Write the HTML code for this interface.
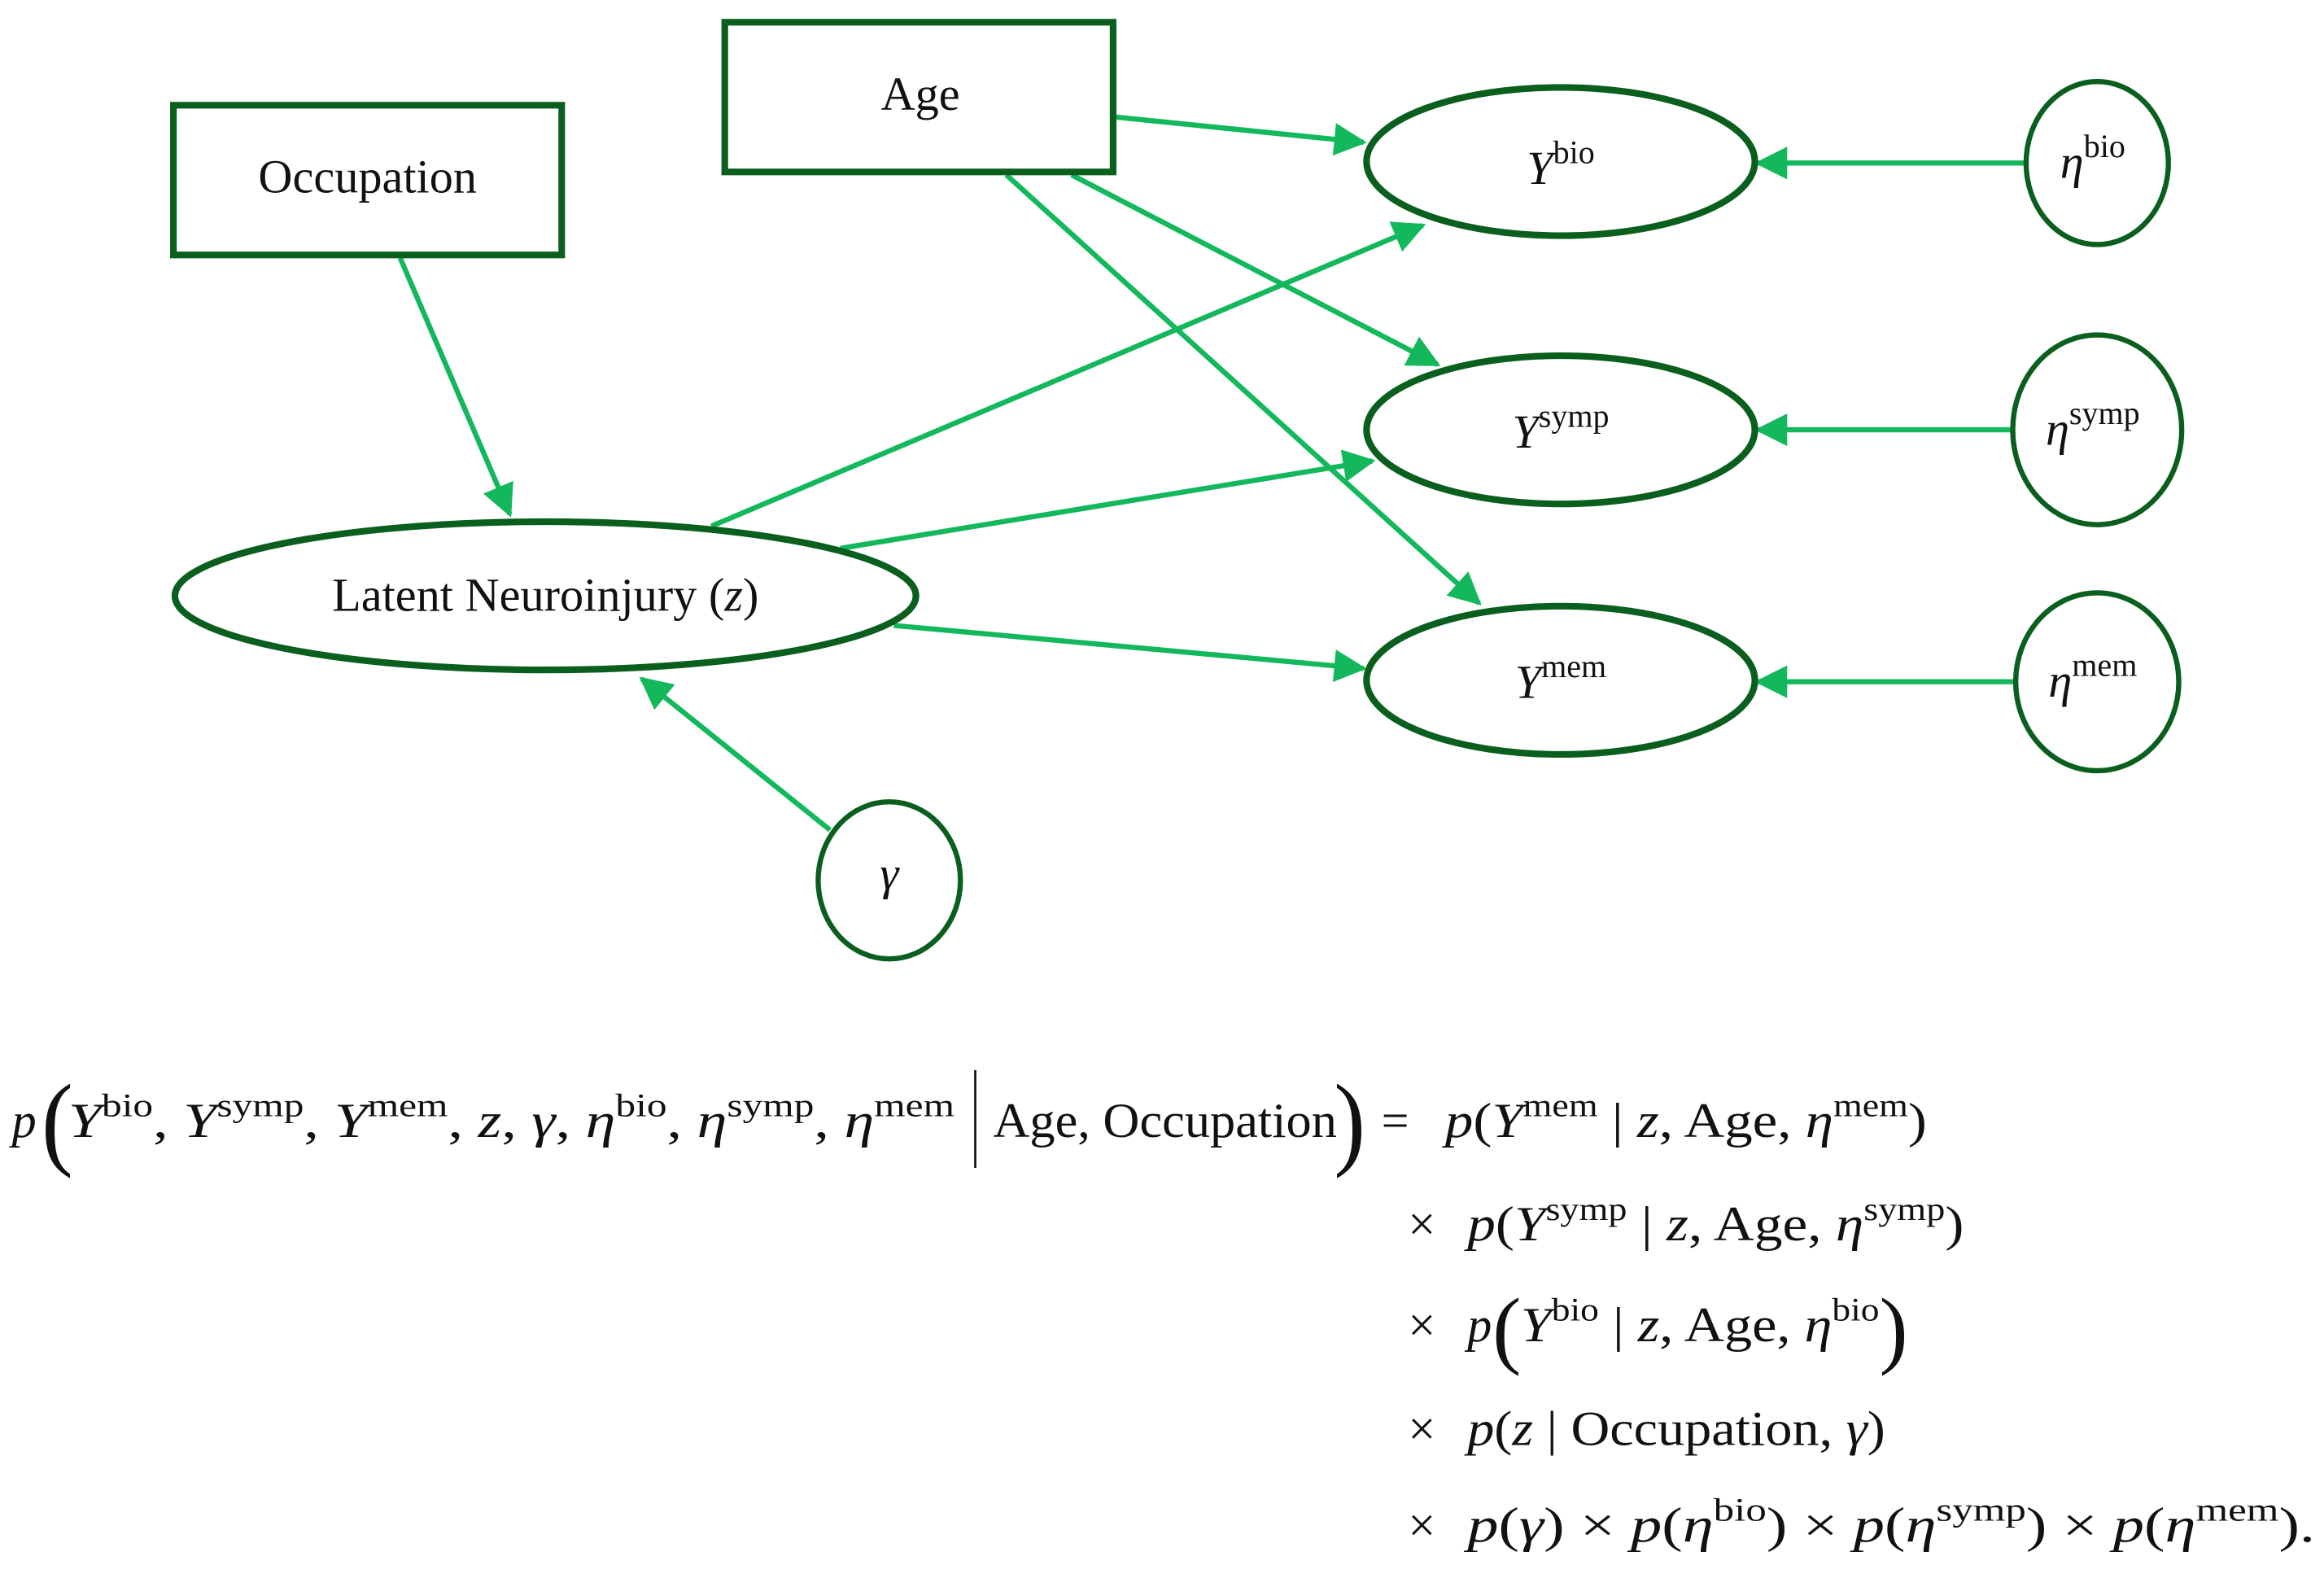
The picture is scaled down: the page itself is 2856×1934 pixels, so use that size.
<!DOCTYPE html>
<html><head><meta charset="utf-8"><style>
html,body{margin:0;padding:0;background:#fff;}
svg{display:block;}
text{font-family:"Liberation Serif","DejaVu Serif",serif;fill:#111;}
.i{font-style:italic;}
</style></head><body>
<svg width="2856" height="1934" viewBox="0 0 1568 1062" preserveAspectRatio="none" xmlns="http://www.w3.org/2000/svg">
<defs>
<marker id="ah" viewBox="0 0 10 10" refX="9" refY="5" markerWidth="9" markerHeight="7" markerUnits="userSpaceOnUse" orient="auto">
<path d="M0,0 L10,5 L0,10 Z" fill="#14b85c"/>
</marker>
<marker id="ah2" viewBox="0 0 10 10" refX="9" refY="5" markerWidth="28" markerHeight="22" markerUnits="userSpaceOnUse" orient="auto">
<path d="M0,0 L10,5 L0,10 Z" fill="#14b85c"/>
</marker>
</defs>
<g stroke="#14b85c" stroke-width="3.5" fill="none" marker-end="url(#ah2)">
<line x1="270" y1="174" x2="344" y2="347"/>
<line x1="753" y1="79" x2="920" y2="96"/>
<line x1="723" y1="118" x2="970" y2="246"/>
<line x1="679" y1="118" x2="998" y2="407"/>
<line x1="480" y1="355" x2="960" y2="152"/>
<line x1="567" y1="370" x2="926" y2="311"/>
<line x1="603" y1="422" x2="920" y2="451"/>
<line x1="560" y1="560" x2="433" y2="458"/>
<line x1="1366" y1="110" x2="1186" y2="110"/>
<line x1="1358" y1="290" x2="1186" y2="290"/>
<line x1="1360" y1="460" x2="1186" y2="460"/>
</g>
<g stroke="#0a5f1e" stroke-width="4.5" fill="#fff">
<rect x="117" y="71" width="262" height="101"/>
<rect x="489" y="15" width="262" height="101"/>
<ellipse cx="1053" cy="109" rx="131" ry="50"/>
<ellipse cx="1053" cy="290" rx="131" ry="50"/>
<ellipse cx="1053" cy="459" rx="131" ry="50"/>
<ellipse cx="368" cy="402" rx="250" ry="50"/>
</g>
<g stroke="#0a5f1e" stroke-width="3.5" fill="#fff">
<ellipse cx="1415" cy="110" rx="48" ry="55"/>
<ellipse cx="1415" cy="290" rx="57" ry="64"/>
<ellipse cx="1415" cy="460" rx="55" ry="60"/>
<ellipse cx="600" cy="594" rx="48" ry="53"/>
</g>
<g font-size="32" text-anchor="middle">
<text x="248" y="130">Occupation</text>
<text x="621" y="74">Age</text>
<text x="368" y="412">Latent Neuroinjury (<tspan class="i">z</tspan>)</text>
<text x="1053" y="124"><tspan class="i">Y</tspan><tspan font-size="22" dy="-14">bio</tspan></text>
<text x="1053" y="302"><tspan class="i">Y</tspan><tspan font-size="22" dy="-14">symp</tspan></text>
<text x="1053" y="471"><tspan class="i">Y</tspan><tspan font-size="22" dy="-14">mem</tspan></text>
<text x="1412" y="120"><tspan class="i">η</tspan><tspan font-size="22" dy="-14">bio</tspan></text>
<text x="1412" y="300"><tspan class="i">η</tspan><tspan font-size="22" dy="-14">symp</tspan></text>
<text x="1412" y="470"><tspan class="i">η</tspan><tspan font-size="22" dy="-14">mem</tspan></text>
<text x="600" y="600" class="i">γ</text>
</g>
<g font-size="33">
<text x="8" y="767" class="i">p</text>
<text x="28" y="780" font-size="64" font-weight="100" transform="translate(28,780) scale(1,1.1) translate(-28,-780)">(</text>
<text x="46" y="767" textLength="598" lengthAdjust="spacingAndGlyphs"><tspan class="i">Y</tspan><tspan font-size="22" dy="-14">bio</tspan><tspan dy="14">, </tspan><tspan class="i">Y</tspan><tspan font-size="22" dy="-14">symp</tspan><tspan dy="14">, </tspan><tspan class="i">Y</tspan><tspan font-size="22" dy="-14">mem</tspan><tspan dy="14">, </tspan><tspan class="i">z</tspan>, <tspan class="i">γ</tspan>, <tspan class="i">η</tspan><tspan font-size="22" dy="-14">bio</tspan><tspan dy="14">, </tspan><tspan class="i">η</tspan><tspan font-size="22" dy="-14">symp</tspan><tspan dy="14">, </tspan><tspan class="i">η</tspan><tspan font-size="22" dy="-14">mem</tspan></text>
<line x1="658" y1="722" x2="658" y2="788" stroke="#111" stroke-width="1.5"/>
<text x="670" y="767" textLength="232" lengthAdjust="spacingAndGlyphs">Age, Occupation</text>
<text x="900" y="780" font-size="64" transform="translate(900,780) scale(1,1.1) translate(-900,-780)">)</text>
<text x="932" y="767">=</text>
<text x="975" y="767" textLength="325" lengthAdjust="spacingAndGlyphs"><tspan class="i">p</tspan>(<tspan class="i">Y</tspan><tspan font-size="22" dy="-14">mem</tspan><tspan dy="14"> | </tspan><tspan class="i">z</tspan>, Age, <tspan class="i">η</tspan><tspan font-size="22" dy="-14">mem</tspan><tspan dy="14">)</tspan></text>
<text x="950" y="837">×</text>
<text x="990" y="837" textLength="335" lengthAdjust="spacingAndGlyphs"><tspan class="i">p</tspan>(<tspan class="i">Y</tspan><tspan font-size="22" dy="-14">symp</tspan><tspan dy="14"> | </tspan><tspan class="i">z</tspan>, Age, <tspan class="i">η</tspan><tspan font-size="22" dy="-14">symp</tspan><tspan dy="14">)</tspan></text>
<text x="950" y="905">×</text>
<text x="990" y="905" class="i">p</text>
<text x="1007" y="916" font-size="58">(</text>
<text x="1026" y="905" textLength="242" lengthAdjust="spacingAndGlyphs"><tspan class="i">Y</tspan><tspan font-size="22" dy="-14">bio</tspan><tspan dy="14"> | </tspan><tspan class="i">z</tspan>, Age, <tspan class="i">η</tspan><tspan font-size="22" dy="-14">bio</tspan></text>
<text x="1268" y="916" font-size="58">)</text>
<text x="950" y="975">×</text>
<text x="990" y="975" textLength="282" lengthAdjust="spacingAndGlyphs"><tspan class="i">p</tspan>(<tspan class="i">z</tspan> | Occupation, <tspan class="i">γ</tspan>)</text>
<text x="950" y="1040">×</text>
<text x="990" y="1040" textLength="572" lengthAdjust="spacingAndGlyphs"><tspan class="i">p</tspan>(<tspan class="i">γ</tspan>)  ×  <tspan class="i">p</tspan>(<tspan class="i">η</tspan><tspan font-size="22" dy="-14">bio</tspan><tspan dy="14">)  ×  </tspan><tspan class="i">p</tspan>(<tspan class="i">η</tspan><tspan font-size="22" dy="-14">symp</tspan><tspan dy="14">)  ×  </tspan><tspan class="i">p</tspan>(<tspan class="i">η</tspan><tspan font-size="22" dy="-14">mem</tspan><tspan dy="14">).</tspan></text>
</g>
</svg>
</body></html>
